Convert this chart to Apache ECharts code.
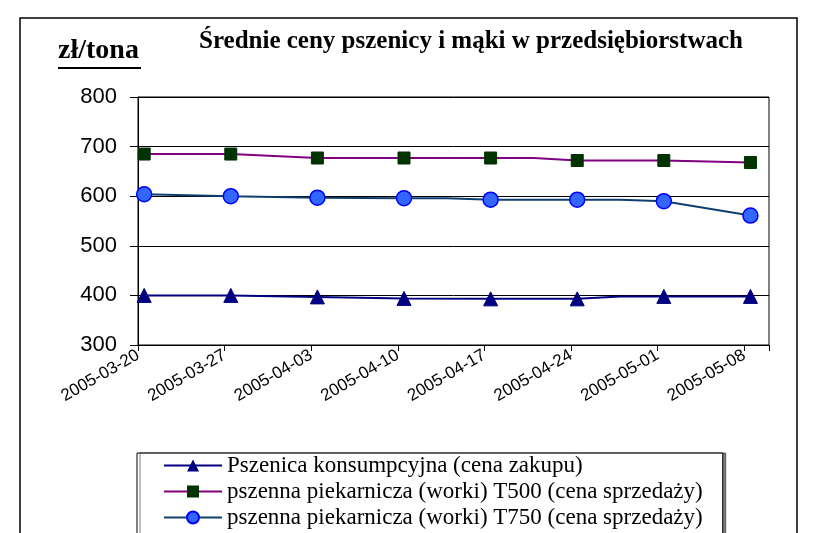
<!DOCTYPE html>
<html>
<head>
<meta charset="utf-8">
<title>Średnie ceny pszenicy i mąki</title>
<script src="https://cdn.jsdelivr.net/npm/echarts@6/dist/echarts.min.js"></script>
<style>
    html, body { margin: 0; padding: 0; background: #fff; }
    #chart { width: 817px; height: 533px; }
</style>
</head>
<body>
<div id="chart"></div>
<script>
    // weekly dates on the axis, data also has mid-week points (no marker there)
    var tickLabels = ['2005-03-20', '2005-03-27', '2005-04-03', '2005-04-10',
                      '2005-04-17', '2005-04-24', '2005-05-01', '2005-05-08'];
    var dayOffsets = [0, 3.5, 7, 10.5, 14, 17.5, 21, 24.5, 28, 31.5, 35, 38.5, 42, 45.5, 49];
    var pszenica = [400, null, 400, null, 397, null, 394, null, 393, null, 393, 398, 398, null, 398];
    var t500 = [685, null, 685, null, 677, null, 677, null, 677, 677, 672, null, 672, null, 668];
    var t750 = [604, null, 600, null, 597, null, 596, 596, 593, null, 593, 593, 590, null, 561];
    var seriesNames = ['Pszenica konsumpcyjna (cena zakupu)',
                       'pszenna piekarnicza (worki) T500 (cena sprzedaży)',
                       'pszenna piekarnicza (worki) T750 (cena sprzedaży)'];

    var dayCenter = 0.5; // points sit in the middle of their day slot

    function toPoints(values) {
        var pts = [];
        for (var i = 0; i < values.length; i++) {
            if (values[i] === null) continue;
            var weekly = dayOffsets[i] % 7 === 0;
            pts.push({value: [dayOffsets[i] + dayCenter, values[i]], symbol: weekly ? undefined : 'none'});
        }
        return pts;
    }

    var chart = echarts.init(document.getElementById('chart'));
    chart.setOption({
        animation: false,
        backgroundColor: '#fff',
        title: {
            text: 'Średnie ceny pszenicy i mąki w przedsiębiorstwach',
            left: 466,
            top: 24,
            textAlign: 'center',
            textStyle: {fontFamily: 'Liberation Serif', fontWeight: 'bold', fontSize: 25, color: '#000'}
        },
        graphic: [
            {type: 'rect', shape: {x: 20, y: 18, width: 777, height: 530}, style: {fill: 'none', stroke: '#000', lineWidth: 1.5}, z: -1},
            {type: 'text', left: 58, top: 37, style: {text: 'zł/tona', font: 'bold 28px "Liberation Serif"', fill: '#000'}},
            {type: 'rect', shape: {x: 58, y: 67, width: 83, height: 2}, style: {fill: '#000'}}
        ],
        legend: {
            orient: 'vertical',
            left: 137,
            top: 453,
            height: 150,
            padding: [1, 20, 30, 26],
            itemGap: 3,
            itemWidth: 58,
            itemHeight: 15,
            borderColor: '#000',
            borderWidth: 1,
            backgroundColor: '#fff',
            shadowColor: 'rgba(0,0,0,0.5)',
            shadowOffsetX: 3,
            shadowOffsetY: 0,
            textStyle: {fontFamily: 'Liberation Serif', fontSize: 23, color: '#000'},
            data: seriesNames
        },
        grid: {
            left: 138,
            right: 48,
            top: 97,
            bottom: 188,
            show: true,
            borderColor: '#000',
            borderWidth: 1
        },
        xAxis: {
            type: 'value',
            min: 0,
            max: 51,
            interval: 7,
            axisLine: {lineStyle: {color: '#000'}},
            axisTick: {show: true, length: 6, lineStyle: {color: '#000'}},
            splitLine: {show: false},
            axisLabel: {
                rotate: 30,
                margin: 9,
                color: '#000',
                fontFamily: 'Liberation Sans',
                fontSize: 17,
                formatter: function (v) { return tickLabels[v / 7] || ''; }
            }
        },
        yAxis: {
            type: 'value',
            min: 300,
            max: 800,
            interval: 100,
            axisLine: {show: true, lineStyle: {color: '#000'}},
            axisTick: {show: true, length: 8, lineStyle: {color: '#000'}},
            splitLine: {lineStyle: {color: '#000', width: 1}},
            axisLabel: {margin: 21, color: '#000', fontFamily: 'Liberation Sans', fontSize: 22}
        },
        series: [
            {
                name: seriesNames[0],
                type: 'line',
                data: toPoints(pszenica),
                symbol: 'triangle',
                symbolSize: 14,
                lineStyle: {color: '#000080', width: 2},
                itemStyle: {color: '#000080', borderColor: '#000080'}
            },
            {
                name: seriesNames[1],
                type: 'line',
                data: toPoints(t500),
                symbol: 'rect',
                symbolSize: 12,
                lineStyle: {color: '#800080', width: 2},
                itemStyle: {color: '#003300', borderColor: '#003300'}
            },
            {
                name: seriesNames[2],
                type: 'line',
                data: toPoints(t750),
                symbol: 'circle',
                symbolSize: 15,
                lineStyle: {color: '#0F3F6F', width: 2},
                itemStyle: {color: '#3366FF', borderColor: '#0000FF', borderWidth: 1.5}
            }
        ]
    });
</script>
</body>
</html>
